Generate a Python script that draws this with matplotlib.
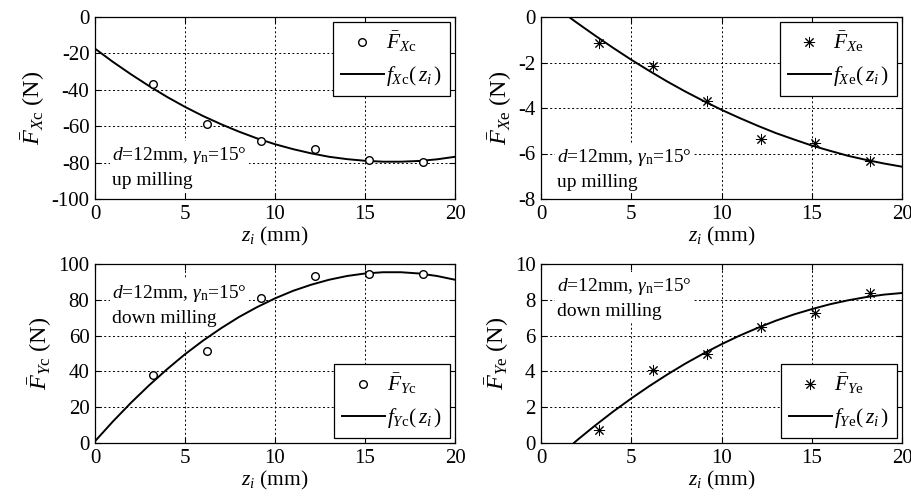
import matplotlib
matplotlib.use("Agg")
import matplotlib.pyplot as plt

plt.rcParams['font.family'] = ['Liberation Serif', 'DejaVu Serif']
plt.rcParams['mathtext.fontset'] = 'custom'
plt.rcParams['mathtext.rm'] = 'Liberation Serif'
plt.rcParams['mathtext.it'] = 'Liberation Serif:italic'
plt.rcParams['mathtext.bf'] = 'Liberation Serif:bold'

# ---- data ----
z_meas = [3.2, 6.2, 9.2, 12.2, 15.2, 18.2]
F_Xc = [-36.9, -58.7, -68.4, -72.7, -78.5, -79.6]
F_Xe = [-1.15, -2.14, -3.69, -5.37, -5.55, -6.34]
F_Yc = [38.2, 51.3, 81.2, 93.5, 94.2, 94.6]
F_Ye = [0.74, 4.09, 4.96, 6.5, 7.27, 8.4]

z_fit_c = [0, 1, 2, 3, 4, 5, 6, 7, 8, 9, 10, 11, 12, 13, 14, 15, 16, 17, 18, 19, 20]
f_Xc = [-17.4, -24.7, -31.5, -37.9, -43.9, -49.4, -54.4, -58.9, -63.0, -66.7, -69.9,
        -72.6, -74.9, -76.8, -78.1, -79.0, -79.5, -79.5, -79.1, -78.2, -76.8]
f_Yc = [1.0, 12.1, 22.5, 32.2, 41.2, 49.6, 57.2, 64.1, 70.4, 75.9, 80.8,
        85.0, 88.4, 91.2, 93.3, 94.7, 95.4, 95.4, 94.7, 93.3, 91.2]

z_fit_Xe = [1.55, 2, 3, 4, 5, 6, 7, 8, 9, 10, 11, 12, 13, 14, 15, 16, 17, 18, 19, 20]
f_Xe = [0.0, -0.26, -0.82, -1.36, -1.88, -2.37, -2.84, -3.28, -3.69, -4.08, -4.44,
        -4.78, -5.10, -5.38, -5.65, -5.88, -6.10, -6.28, -6.44, -6.58]
z_fit_Ye = [1.82, 2, 3, 4, 5, 6, 7, 8, 9, 10, 11, 12, 13, 14, 15, 16, 17, 18, 19, 20]
f_Ye = [0.0, 0.16, 0.98, 1.76, 2.49, 3.18, 3.83, 4.44, 5.00, 5.52, 6.00,
        6.43, 6.83, 7.18, 7.48, 7.75, 7.97, 8.15, 8.29, 8.38]

x_ticks = [0, 5, 10, 15, 20]
yticks_Xc = [-100, -80, -60, -40, -20, 0]
yticks_Xe = [-8, -6, -4, -2, 0]
yticks_Yc = [0, 20, 40, 60, 80, 100]
yticks_Ye = [0, 2, 4, 6, 8, 10]

fig = plt.figure(figsize=(9.11, 5.0), dpi=100)

panels = [
    ([0.1043, 0.602, 0.3952, 0.364], F_Xc, z_fit_c, f_Xc, yticks_Xc, r'X\mathrm{c}', 'o',
     'upper right', (0.047, 0.175), 'up milling'),
    ([0.5939, 0.602, 0.3963, 0.364], F_Xe, z_fit_Xe, f_Xe, yticks_Xe, r'X\mathrm{e}', (8, 2, 0),
     'upper right', (0.044, 0.165), 'up milling'),
    ([0.1043, 0.114, 0.3952, 0.358], F_Yc, z_fit_c, f_Yc, yticks_Yc, r'Y\mathrm{c}', 'o',
     'lower right', (0.047, 0.77), 'down milling'),
    ([0.5939, 0.114, 0.3963, 0.358], F_Ye, z_fit_Ye, f_Ye, yticks_Ye, r'Y\mathrm{e}', (8, 2, 0),
     'lower right', (0.044, 0.81), 'down milling'),
]

for rect, meas, zf, fv, yt, sub, mk, lloc, tpos, mode in panels:
    ax = fig.add_axes(rect)
    if mk == 'o':
        ax.plot(z_meas, meas, linestyle='none', marker='o', markersize=5.5,
                markerfacecolor='white', markeredgecolor='black', markeredgewidth=1.0,
                label=r'$\bar{F}_{' + sub + '}$', zorder=4)
    else:
        ax.plot(z_meas, meas, linestyle='none', marker=mk, markersize=8,
                color='black', markeredgewidth=0.7,
                label=r'$\bar{F}_{' + sub + '}$', zorder=4)
    ax.plot(zf, fv, color='black', linewidth=1.4,
            label=r'$f_{' + sub + r'}(\,z_i\,)$', zorder=3)
    ax.set_xlim(0, 20)
    ax.set_ylim(yt[0], yt[-1])
    ax.set_xticks(x_ticks)
    ax.set_yticks(yt)
    ax.set_yticklabels([str(v) for v in yt])
    ax.grid(True, linestyle=(0, (2, 2.5)), color='black', linewidth=0.7)
    ax.set_axisbelow(True)
    ax.tick_params(direction='in', length=4, top=True, right=True, labelsize=15,
                   width=0.8, pad=4)
    for s in ax.spines.values():
        s.set_linewidth(0.9)
    ax.set_xlabel(r'$z_i$ (mm)', fontsize=15.5, labelpad=1)
    ax.set_ylabel(r'$\bar{F}_{' + sub + r'}$ (N)', fontsize=17.5, labelpad=3)
    leg = ax.legend(loc=lloc, fontsize=15.5, frameon=True, fancybox=False,
                    edgecolor='black', framealpha=1.0, borderaxespad=0.25,
                    handlelength=2.0, handletextpad=0.1, labelspacing=0.45,
                    borderpad=0.35)
    leg.get_frame().set_linewidth(0.9)
    leg.set_zorder(6)
    ax.text(tpos[0], tpos[1], r'$d$=12mm, $\gamma_{\mathrm{n}}$=15°' + '\n' + mode,
            transform=ax.transAxes, fontsize=14, ha='left', va='center',
            linespacing=1.5, zorder=2.5,
            bbox=dict(facecolor='white', edgecolor='none', pad=1.5))

fig.savefig('out.png', dpi=100)
